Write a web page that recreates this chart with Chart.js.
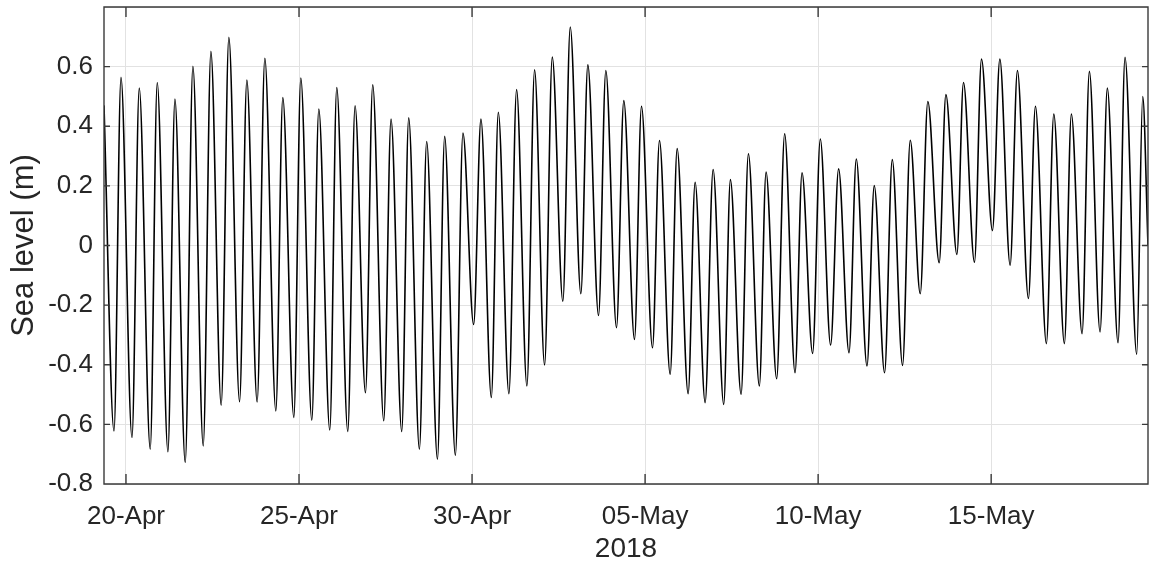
<!DOCTYPE html>
<html>
<head>
<meta charset="utf-8">
<script src="https://cdn.jsdelivr.net/npm/chart.js@4/dist/chart.umd.min.js"></script>
<style>
  html, body { margin: 0; padding: 0; background: #fff; }
  #box { width: 1150px; height: 564px; }
</style>
</head>
<body>
<div id="box"><canvas id="grafico"></canvas></div>
<script>
// ===============================
// DATA (days after 20-Apr-2018 00:00, sea level in m) - high/low waters
// ===============================
const tideDays = [
  -0.635, -0.346, -0.144, 0.173, 0.384, 0.701, 0.904, 1.212, 1.415, 1.712,
  1.934, 2.232, 2.454, 2.751, 2.973, 3.282, 3.493, 3.790, 4.013, 4.330,
  4.532, 4.850, 5.052, 5.370, 5.572, 5.889, 6.091, 6.409, 6.620, 6.920,
  7.130, 7.448, 7.659, 7.968, 8.170, 8.479, 8.689, 9.000, 9.209, 9.518,
  9.737, 10.046, 10.257, 10.557, 10.759, 11.065, 11.287, 11.585, 11.807, 12.096,
  12.318, 12.624, 12.838, 13.144, 13.346, 13.655, 13.866, 14.174, 14.385, 14.694,
  14.896, 15.214, 15.416, 15.725, 15.927, 16.244, 16.446, 16.735, 16.966, 17.272,
  17.465, 17.774, 17.985, 18.302, 18.496, 18.802, 19.033, 19.333, 19.535, 19.841,
  20.063, 20.361, 20.592, 20.892, 21.103, 21.412, 21.622, 21.920, 22.142, 22.440,
  22.662, 22.951, 23.170, 23.499, 23.692, 24.010, 24.200, 24.518, 24.720, 25.037,
  25.251, 25.548, 25.759, 26.077, 26.279, 26.596, 26.810, 27.116, 27.318, 27.627,
  27.838, 28.147, 28.357, 28.666, 28.868, 29.206, 29.379, 29.532
];
const tideLevels = [
  0.47, -0.622, 0.564, -0.644, 0.528, -0.683, 0.547, -0.692, 0.491, -0.728,
  0.601, -0.672, 0.651, -0.536, 0.698, -0.524, 0.555, -0.525, 0.628, -0.555,
  0.496, -0.577, 0.562, -0.586, 0.458, -0.619, 0.530, -0.624, 0.469, -0.494,
  0.539, -0.588, 0.424, -0.624, 0.428, -0.683, 0.349, -0.717, 0.366, -0.704,
  0.377, -0.265, 0.424, -0.510, 0.447, -0.497, 0.523, -0.471, 0.589, -0.401,
  0.632, -0.187, 0.733, -0.162, 0.606, -0.235, 0.587, -0.276, 0.486, -0.315,
  0.467, -0.343, 0.352, -0.432, 0.325, -0.497, 0.212, -0.527, 0.255, -0.533,
  0.221, -0.499, 0.308, -0.471, 0.246, -0.447, 0.375, -0.427, 0.244, -0.362,
  0.357, -0.334, 0.257, -0.360, 0.290, -0.404, 0.201, -0.427, 0.288, -0.402,
  0.353, -0.162, 0.483, -0.058, 0.506, -0.030, 0.547, -0.056, 0.625, 0.050,
  0.625, -0.066, 0.587, -0.178, 0.467, -0.329, 0.441, -0.329, 0.441, -0.296,
  0.584, -0.290, 0.528, -0.326, 0.631, -0.365, 0.500, 0.0
];

// tick labels on the date axis
const dateTickDays = [0, 5, 10, 15, 20, 25];
const dateTickLabels = ["20-Apr", "25-Apr", "30-Apr", "05-May", "10-May", "15-May"];

const AXIS_COLOR = "#262626";
const GRID_COLOR = "#e2e2e2";
const FONTE = "'Liberation Sans', Arial, sans-serif";

// ===============================
// BOX + INWARD TICKS (MATLAB style)
// ===============================
const caixaPlugin = {
  id: "caixa",
  afterDatasetsDraw(chart) {
    const { ctx, chartArea: a, scales } = chart;
    ctx.save();
    ctx.strokeStyle = "#3a3a3a";
    ctx.lineWidth = 1.4;
    ctx.beginPath();
    ctx.rect(a.left, a.top, a.right - a.left, a.bottom - a.top);
    scales.x.ticks.forEach(t => {
      const px = scales.x.getPixelForValue(t.value);
      ctx.moveTo(px, a.bottom); ctx.lineTo(px, a.bottom - 10);
      ctx.moveTo(px, a.top); ctx.lineTo(px, a.top + 10);
    });
    scales.y.ticks.forEach(t => {
      const py = scales.y.getPixelForValue(t.value);
      ctx.moveTo(a.left, py); ctx.lineTo(a.left + 6, py);
      ctx.moveTo(a.right, py); ctx.lineTo(a.right - 6, py);
    });
    ctx.stroke();
    ctx.restore();
  }
};

// ===============================
// CHART
// ===============================
const pontos = tideDays.map((d, i) => ({ x: d, y: tideLevels[i] }));

new Chart(document.getElementById("grafico").getContext("2d"), {
  type: "line",
  data: {
    datasets: [{
      data: pontos,
      borderColor: "#000",
      borderWidth: 1.6,
      pointRadius: 0,
      fill: false,
      cubicInterpolationMode: "monotone"
    }]
  },
  options: {
    responsive: true,
    maintainAspectRatio: false,
    animation: false,
    layout: { padding: { top: 7, right: 2, left: 0, bottom: 0 } },
    plugins: {
      legend: { display: false },
      tooltip: { enabled: false }
    },
    scales: {
      x: {
        type: "linear",
        min: tideDays[0],
        max: tideDays[tideDays.length - 1],
        afterFit(s) { s.height = 80; s.paddingLeft = 0; s.paddingRight = 0; },
        afterBuildTicks(s) { s.ticks = dateTickDays.map(v => ({ value: v })); },
        grid: { color: GRID_COLOR, drawTicks: false },
        border: { display: false },
        ticks: {
          padding: 17,
          color: AXIS_COLOR,
          maxRotation: 0,
          font: { family: FONTE, size: 26 },
          callback: v => dateTickLabels[dateTickDays.indexOf(v)]
        },
        title: {
          display: true,
          text: "2018",
          color: AXIS_COLOR,
          padding: { top: 0, bottom: -2 },
          font: { family: FONTE, size: 28 }
        }
      },
      y: {
        min: -0.8,
        max: 0.8,
        afterFit(s) { s.width = 104; s.paddingTop = 0; s.paddingBottom = 0; },
        grid: { color: GRID_COLOR, drawTicks: false },
        border: { display: false },
        ticks: {
          stepSize: 0.2,
          padding: 11,
          color: AXIS_COLOR,
          font: { family: FONTE, size: 26 },
          callback: v => {
            const r = Math.round(v * 10) / 10;
            if (r >= 0.8) return "";
            return r === 0 ? "0" : r.toFixed(1);
          }
        },
        title: {
          display: true,
          text: "Sea level (m)",
          color: AXIS_COLOR,
          padding: { top: 6, bottom: 0 },
          font: { family: FONTE, size: 31 }
        }
      }
    }
  },
  plugins: [caixaPlugin]
});
</script>
</body>
</html>
